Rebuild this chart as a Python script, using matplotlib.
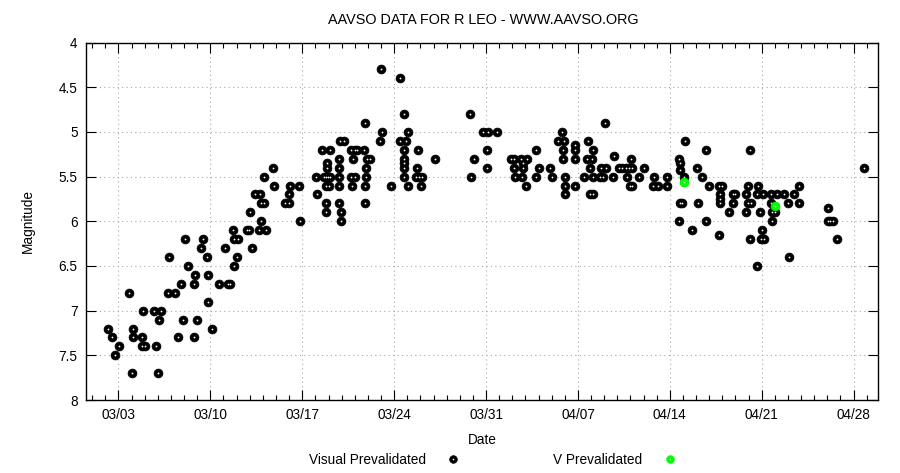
import matplotlib
matplotlib.use('AGG')
import matplotlib.pyplot as plt
import matplotlib.dates as mdates
from matplotlib.lines import Line2D
from matplotlib.ticker import FormatStrFormatter, MultipleLocator
import numpy as np

plt.rcParams['font.family'] = ['Liberation Sans', 'DejaVu Sans']

# days after 2023-03-01 00:00, magnitude
visual_day = [1.24, 1.54, 1.73, 2.03, 2.79, 3.07, 3.12, 3.04, 3.78, 3.78, 4.03, 3.86, 4.67, 5.25, 4.87, 5.0, 5.08,
              5.76, 6.3, 5.84, 6.52, 6.75, 6.9, 7.08, 7.29, 7.79, 7.79, 7.84, 7.97, 8.28, 8.43, 8.73, 8.81, 8.85,
              9.14, 9.69, 10.15, 10.33, 10.53, 10.76, 10.79, 10.81, 11.09, 11.06, 11.78, 11.98, 12.2, 12.05, 12.69,
              13.25, 12.41, 12.81, 12.85, 13.1, 12.87, 13.1, 13.78, 13.84, 14.72, 15.0, 15.02, 15.08, 15.76, 15.86,
              17.08, 17.11, 17.51, 18.12, 17.87, 17.87, 17.69, 17.82, 17.97, 18.12, 17.82, 18.05, 17.82, 18.79,
              17.84, 18.96, 18.98, 18.83, 18.83, 18.83, 18.83, 18.91, 19.17, 19.75, 20.03, 20.2, 20.74, 19.85,
              20.92, 21.17, 20.84, 19.75, 20.03, 20.84, 19.8, 20.77, 20.77, 20.77, 22.1, 21.9, 22.03, 22.79,
              23.42, 23.75, 24.09, 23.42, 23.89, 23.75, 24.82, 23.75, 23.75, 23.75, 23.75, 26.14, 24.73, 24.7,
              24.93, 25.1, 24.06, 25.05, 28.76, 29.07, 28.84, 29.75, 30.13, 30.82, 30.1, 30.06,
              31.91, 32.11, 32.67, 33.1, 32.85, 32.14, 32.8, 33.79, 34.06, 32.19, 32.72, 33.79, 33.05,
              34.88, 35.05, 35.79, 35.47, 35.95, 35.87, 35.87, 36.0, 36.04, 36.04, 36.78, 36.78, 36.76, 36.78,
              37.75, 38.15, 37.7, 38.05, 37.93, 37.47, 38.13, 37.93, 38.13, 39.03, 38.74, 39.12, 38.71, 38.92,
              39.75, 39.7, 40.13, 40.39, 40.67, 40.92, 41.14, 41.03, 40.72, 40.97, 41.14, 42.06, 41.68, 42.8,
              43.77, 42.72, 43.13, 43.79, 45.12, 44.7, 44.8, 44.78, 45.06, 44.74, 44.93, 44.7, 46.07, 46.78,
              46.45, 46.17, 46.78, 45.67, 47.75, 46.99, 47.75, 47.98, 47.8, 47.8, 47.8,
              48.8, 48.97, 48.51, 48.84, 49.81, 49.98, 50.74, 50.11, 49.96, 50.19, 49.78, 50.66, 51.08, 50.87,
              51.02, 50.07, 50.97, 51.18, 50.66, 51.71, 52.15, 52.66, 53.46, 53.87, 51.71, 51.79, 52.04, 51.82,
              53.0, 53.87, 53.08, 56.07, 56.03, 56.2, 56.45, 56.74, 58.8]
visual_mag = [7.2, 7.3, 7.5, 7.4, 6.8, 7.2, 7.3, 7.7, 7.3, 7.4, 7.4, 7.0, 7.0, 7.0, 7.4, 7.7, 7.1,
              6.8, 6.8, 6.4, 7.3, 6.7, 7.1, 6.2, 6.5, 6.7, 7.3, 6.6, 7.1, 6.3, 6.2, 6.4, 6.6, 6.9,
              7.2, 6.7, 6.3, 6.7, 6.7, 6.1, 6.5, 6.2, 6.2, 6.4, 6.1, 6.1, 6.3, 5.9, 6.1,
              6.1, 5.7, 5.7, 5.8, 5.8, 6.0, 5.5, 5.4, 5.6, 5.8, 5.8, 5.7, 5.6, 5.6, 6.0,
              5.5, 5.7, 5.2, 5.2, 5.35, 5.4, 5.5, 5.5, 5.5, 5.5, 5.6, 5.6, 5.8, 5.8,
              5.9, 5.9, 6.0, 5.3, 5.4, 5.5, 5.6, 5.1, 5.1, 5.2, 5.2, 5.2, 5.2, 5.3,
              5.3, 5.3, 5.4, 5.5, 5.5, 5.5, 5.6, 5.6, 5.8, 4.9, 5.0, 5.1, 4.3, 5.6,
              4.4, 4.8, 5.0, 5.1, 5.1, 5.2, 5.2, 5.3, 5.35, 5.4, 5.5, 5.3, 5.4, 5.5,
              5.5, 5.5, 5.6, 5.6, 4.8, 5.3, 5.5, 5.0, 5.0, 5.0, 5.2, 5.4,
              5.3, 5.3, 5.3, 5.3, 5.35, 5.4, 5.4, 5.2, 5.4, 5.5, 5.5, 5.5, 5.6,
              5.4, 5.5, 5.0, 5.1, 5.1, 5.2, 5.3, 5.5, 5.6, 5.7, 5.15, 5.2, 5.3, 5.6,
              5.1, 5.2, 5.3, 5.3, 5.4, 5.5, 5.5, 5.7, 5.7, 4.9, 5.4, 5.4, 5.5, 5.5,
              5.27, 5.5, 5.4, 5.4, 5.4, 5.4, 5.4, 5.3, 5.5, 5.6, 5.6, 5.4, 5.5, 5.5,
              5.5, 5.6, 5.6, 5.6, 5.1, 5.3, 5.35, 5.43, 5.5, 5.8, 5.8, 6.0, 5.4, 5.2,
              5.5, 5.8, 6.0, 6.1, 6.15, 5.6, 5.6, 5.6, 5.7, 5.75, 5.8,
              5.7, 5.7, 5.9, 5.8, 5.7, 5.6, 5.6, 5.2, 5.8, 5.8, 5.9, 5.7, 5.7, 5.9,
              6.1, 6.2, 6.2, 6.2, 6.5, 5.7, 5.7, 5.7, 5.7, 5.6, 5.8, 5.9, 5.9, 6.0,
              5.8, 5.8, 6.4, 5.85, 6.0, 6.0, 6.0, 6.2, 5.4]

v_day = [45.1, 52.04]
v_mag = [5.56, 5.83]

tick_labels = ['2023-03-03', '2023-03-10', '2023-03-17', '2023-03-24', '2023-03-31',
               '2023-04-07', '2023-04-14', '2023-04-21', '2023-04-28']

base = np.datetime64('2023-03-01T00:00')


def to_dates(days):
    return base + (np.array(days) * 86400).astype('timedelta64[s]')


fig = plt.figure(figsize=(9, 4.73), dpi=100)
ax = fig.add_axes([0.0956, 0.1543, 0.88, 0.7557])

ax.plot(to_dates(visual_day), visual_mag, 'o', ms=6.4, mfc='black', mec='black', mew=0.5, zorder=3)
ax.plot(to_dates(visual_day), visual_mag, 'o', ms=1.3, mfc='white', mec='none', zorder=4)
ax.plot(to_dates(v_day), v_mag, 'o', ms=6.4, mfc='#00ff00', mec='#00e000', mew=0.5, zorder=5)
ax.plot(to_dates(v_day), v_mag, 'o', ms=1.3, mfc='#c0ffc0', mec='none', zorder=6)

ax.set_xlim(to_dates([-0.47])[0], to_dates([59.86])[0])
ax.set_ylim(8, 4)

ax.set_xticks(np.array(tick_labels, dtype='datetime64[s]'))
ax.xaxis.set_major_formatter(mdates.DateFormatter('%m/%d'))
ax.xaxis.set_minor_locator(mdates.DayLocator())
ax.yaxis.set_major_locator(MultipleLocator(0.5))
ax.yaxis.set_major_formatter(FormatStrFormatter('%g'))

ax.tick_params(which='both', direction='in', top=True, right=True, labelsize=9.8, pad=6)
ax.tick_params(which='major', length=7, width=0.8)
ax.tick_params(which='minor', length=3.5, width=0.8)
ax.grid(True, which='major', color='#a8a8a8', linestyle=(0, (1, 3)), linewidth=0.8)
for s in ax.spines.values():
    s.set_linewidth(1.0)

ax.set_xlabel('Date', fontsize=9.8, labelpad=8)
ax.set_ylabel('Magnitude', fontsize=9.8, labelpad=17)
fig.text(0.537, 0.957, 'AAVSO DATA FOR R LEO - WWW.AAVSO.ORG', ha='center', va='center', fontsize=10.4)

# key at the bottom
fig.text(0.473, 0.027, 'Visual Prevalidated', ha='right', va='center', fontsize=9.8)
fig.text(0.713, 0.027, 'V Prevalidated', ha='right', va='center', fontsize=9.8)
for xk, fc, dot in [(0.5035, 'black', 'white'), (0.7445, '#00ff00', '#c0ffc0')]:
    fig.add_artist(Line2D([xk], [0.029], marker='o', ms=5.5, mfc=fc, mec=fc, mew=0.5,
                          transform=fig.transFigure))
    fig.add_artist(Line2D([xk], [0.029], marker='o', ms=1.2, mfc=dot, mec='none',
                          transform=fig.transFigure))

plt.savefig('out.png', dpi=100)
